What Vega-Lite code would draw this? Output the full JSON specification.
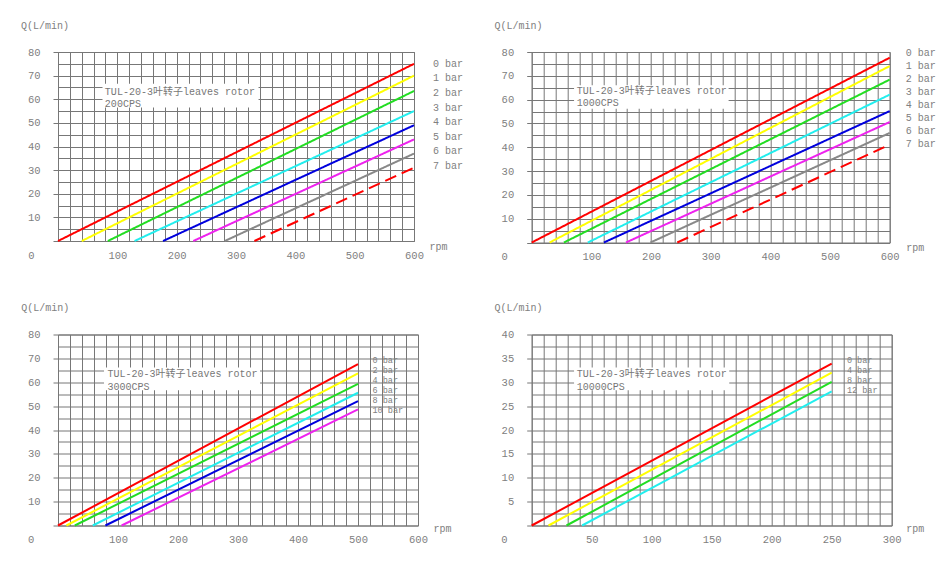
{
  "$schema": "https://vega.github.io/schema/vega-lite/v6.json",
  "background": "white",
  "padding": {"left": 20, "top": 19, "right": 0, "bottom": 0},
  "config": {
    "font": "'Liberation Mono', 'Noto Sans CJK SC'",
    "view": {"stroke": "#777777", "strokeWidth": 1},
    "axis": {
      "domain": false,
      "grid": true,
      "gridColor": "#777777",
      "gridOpacity": 1,
      "gridWidth": 1,
      "labelColor": "#808080",
      "labelFont": "Liberation Mono",
      "labelFontSize": 10.5,
      "labelOverlap": false,
      "labelFlush": false,
      "titleColor": "#808080",
      "titleFont": "Liberation Mono",
      "titleFontSize": 10,
      "titleFontWeight": "normal",
      "titleAngle": 0,
      "titleAlign": "left",
      "titleBaseline": "middle",
      "tickColor": "#777777"
    },
    "axisX": {"ticks": false, "labelPadding": 14, "labelBaseline": "middle"},
    "axisY": {"tickSize": 5, "labelPadding": 13},
    "legend": {
      "orient": "none",
      "title": null,
      "symbolSize": 0,
      "symbolOpacity": 0,
      "symbolStrokeWidth": 0,
      "labelOffset": 0,
      "padding": 0,
      "labelColor": "#808080",
      "labelFont": "Liberation Mono"
    }
  },
  "columns": 2,
  "bounds": "flush",
  "spacing": {"row": 91.5, "column": 113.7},
  "resolve": {"scale": {"color": "independent"}, "legend": {"color": "independent"}},
  "concat": [
    {
      "width": 356,
      "height": 189,
      "encoding": {
        "x": {"field": "rpm", "type": "quantitative", "scale": {"domain": [0, 600], "nice": false},
          "axis": {"values": [0,20,40,60,80,100,120,140,160,180,200,220,240,260,280,300,320,340,360,380,400,420,440,460,480,500,520,540,560,580,600],
            "labelExpr": "datum.value % 100 == 0 ? datum.label : ''",
            "labelOffset": {"condition": {"test": "datum.value == 0", "value": -27}, "value": 0},
            "title": "rpm", "titleX": 371, "titleY": 5}},
        "y": {"field": "Q", "type": "quantitative", "scale": {"domain": [0, 80], "nice": false},
          "axis": {"values": [0,5,10,15,20,25,30,35,40,45,50,55,60,65,70,75,80],
            "labelExpr": "datum.value > 0 && datum.value % 10 == 0 ? datum.label : ''",
            "tickOpacity": {"condition": {"test": "datum.value % 10 == 0", "value": 1}, "value": 0},
            "title": "Q(L/min)", "titleX": -37.5, "titleY": -26.5}}
      },
      "layer": [
        {
          "data": {"values": [{"rpm": 75, "rpm2": 338, "Q": 56.5, "Q2": 66.6}]},
          "mark": {"type": "rect", "fill": "white"},
          "encoding": {"x2": {"field": "rpm2"}, "y2": {"field": "Q2"}}
        },
        {
          "data": {"values": [{"rpm": 79, "Q": 65.35, "note": "TUL-20-3叶转子leaves rotor\n200CPS"}]},
          "mark": {"type": "text", "align": "left", "baseline": "top", "lineBreak": "\n", "lineHeight": 12.3, "fontSize": 10, "color": "#777777"},
          "encoding": {"text": {"field": "note"}}
        },
        {
          "data": {"values": [
            {"p": "0 bar", "rpm": 0, "Q": 0}, {"p": "0 bar", "rpm": 600, "Q": 75},
            {"p": "1 bar", "rpm": 40, "Q": 0}, {"p": "1 bar", "rpm": 600, "Q": 70},
            {"p": "2 bar", "rpm": 84, "Q": 0}, {"p": "2 bar", "rpm": 600, "Q": 63.5},
            {"p": "3 bar", "rpm": 129, "Q": 0}, {"p": "3 bar", "rpm": 600, "Q": 55},
            {"p": "4 bar", "rpm": 177, "Q": 0}, {"p": "4 bar", "rpm": 600, "Q": 49},
            {"p": "5 bar", "rpm": 228, "Q": 0}, {"p": "5 bar", "rpm": 600, "Q": 43},
            {"p": "6 bar", "rpm": 281, "Q": 0}, {"p": "6 bar", "rpm": 600, "Q": 37},
            {"p": "7 bar", "rpm": 331, "Q": 0}, {"p": "7 bar", "rpm": 600, "Q": 31}
          ]},
          "mark": {"type": "line", "strokeWidth": 2},
          "encoding": {
            "color": {"field": "p", "type": "nominal",
              "scale": {"domain": ["0 bar","1 bar","2 bar","3 bar","4 bar","5 bar","6 bar","7 bar"],
                "range": ["#ff0000","#ffff00","#22dd22","#22eeee","#0000dd","#ee22ee","#888888","#ff0000"]},
              "legend": {"legendX": 365, "legendY": 6.9, "rowPadding": 4.55, "labelFontSize": 10}},
            "strokeDash": {"condition": {"test": "datum.p == '7 bar'", "value": [12, 6]}, "value": [1, 0]}
          }
        }
      ]
    },
    {
      "width": 358,
      "height": 190.5,
      "encoding": {
        "x": {"field": "rpm", "type": "quantitative", "scale": {"domain": [0, 600], "nice": false},
          "axis": {"values": [0,20,40,60,80,100,120,140,160,180,200,220,240,260,280,300,320,340,360,380,400,420,440,460,480,500,520,540,560,580,600],
            "labelExpr": "datum.value % 100 == 0 ? datum.label : ''",
            "labelOffset": {"condition": {"test": "datum.value == 0", "value": -27.5}, "value": 0},
            "title": "rpm", "titleX": 374, "titleY": 5}},
        "y": {"field": "Q", "type": "quantitative", "scale": {"domain": [0, 80], "nice": false},
          "axis": {"values": [0,5,10,15,20,25,30,35,40,45,50,55,60,65,70,75,80],
            "labelExpr": "datum.value > 0 && datum.value % 10 == 0 ? datum.label : ''",
            "tickOpacity": {"condition": {"test": "datum.value % 10 == 0", "value": 1}, "value": 0},
            "title": "Q(L/min)", "titleX": -37.7, "titleY": -26.7}}
      },
      "layer": [
        {
          "data": {"values": [{"rpm": 71, "rpm2": 330, "Q": 56.2, "Q2": 66}]},
          "mark": {"type": "rect", "fill": "white"},
          "encoding": {"x2": {"field": "rpm2"}, "y2": {"field": "Q2"}}
        },
        {
          "data": {"values": [{"rpm": 75.4, "Q": 65.7, "note": "TUL-20-3叶转子leaves rotor\n1000CPS"}]},
          "mark": {"type": "text", "align": "left", "baseline": "top", "lineBreak": "\n", "lineHeight": 12.3, "fontSize": 10, "color": "#777777"},
          "encoding": {"text": {"field": "note"}}
        },
        {
          "data": {"values": [
            {"p": "0 bar", "rpm": 0, "Q": 0}, {"p": "0 bar", "rpm": 600, "Q": 77.6},
            {"p": "1 bar", "rpm": 30, "Q": 0}, {"p": "1 bar", "rpm": 600, "Q": 74.1},
            {"p": "2 bar", "rpm": 54, "Q": 0}, {"p": "2 bar", "rpm": 600, "Q": 68.4},
            {"p": "3 bar", "rpm": 94, "Q": 0}, {"p": "3 bar", "rpm": 600, "Q": 62.1},
            {"p": "4 bar", "rpm": 121, "Q": 0}, {"p": "4 bar", "rpm": 600, "Q": 55.2},
            {"p": "5 bar", "rpm": 158, "Q": 0}, {"p": "5 bar", "rpm": 600, "Q": 50.6},
            {"p": "6 bar", "rpm": 199, "Q": 0}, {"p": "6 bar", "rpm": 600, "Q": 46},
            {"p": "7 bar", "rpm": 244, "Q": 0}, {"p": "7 bar", "rpm": 600, "Q": 41.1}
          ]},
          "mark": {"type": "line", "strokeWidth": 2},
          "encoding": {
            "color": {"field": "p", "type": "nominal",
              "scale": {"domain": ["0 bar","1 bar","2 bar","3 bar","4 bar","5 bar","6 bar","7 bar"],
                "range": ["#ff0000","#ffff00","#22dd22","#22eeee","#0000dd","#ee22ee","#888888","#ff0000"]},
              "legend": {"legendX": 364, "legendY": -4.4, "rowPadding": 3.1, "labelFontSize": 10}},
            "strokeDash": {"condition": {"test": "datum.p == '7 bar'", "value": [12, 6]}, "value": [1, 0]}
          }
        }
      ]
    },
    {
      "width": 360,
      "height": 191,
      "encoding": {
        "x": {"field": "rpm", "type": "quantitative", "scale": {"domain": [0, 600], "nice": false},
          "axis": {"values": [0,20,40,60,80,100,120,140,160,180,200,220,240,260,280,300,320,340,360,380,400,420,440,460,480,500,520,540,560,580,600],
            "labelExpr": "datum.value % 100 == 0 ? datum.label : ''",
            "labelOffset": {"condition": {"test": "datum.value == 0", "value": -27.3}, "value": 0},
            "title": "rpm", "titleX": 375, "titleY": 2.5}},
        "y": {"field": "Q", "type": "quantitative", "scale": {"domain": [0, 80], "nice": false},
          "axis": {"values": [0,5,10,15,20,25,30,35,40,45,50,55,60,65,70,75,80],
            "labelExpr": "datum.value > 0 && datum.value % 10 == 0 ? datum.label : ''",
            "tickOpacity": {"condition": {"test": "datum.value % 10 == 0", "value": 1}, "value": 0},
            "title": "Q(L/min)", "titleX": -37.3, "titleY": -27}}
      },
      "layer": [
        {
          "data": {"values": [{"rpm": 76.7, "rpm2": 336.7, "Q": 56.7, "Q2": 66.2}]},
          "mark": {"type": "rect", "fill": "white"},
          "encoding": {"x2": {"field": "rpm2"}, "y2": {"field": "Q2"}}
        },
        {
          "data": {"values": [{"rpm": 82.5, "Q": 65.4, "note": "TUL-20-3叶转子leaves rotor\n3000CPS"}]},
          "mark": {"type": "text", "align": "left", "baseline": "top", "lineBreak": "\n", "lineHeight": 12.3, "fontSize": 10, "color": "#777777"},
          "encoding": {"text": {"field": "note"}}
        },
        {
          "data": {"values": [
            {"p": "0 bar", "rpm": 0, "Q": 0}, {"p": "0 bar", "rpm": 500, "Q": 67.6},
            {"p": "2 bar", "rpm": 14, "Q": 0}, {"p": "2 bar", "rpm": 500, "Q": 63.7},
            {"p": "4 bar", "rpm": 28, "Q": 0}, {"p": "4 bar", "rpm": 500, "Q": 59.3},
            {"p": "6 bar", "rpm": 58, "Q": 0}, {"p": "6 bar", "rpm": 500, "Q": 55.6},
            {"p": "8 bar", "rpm": 79, "Q": 0}, {"p": "8 bar", "rpm": 500, "Q": 52.1},
            {"p": "10 bar", "rpm": 106, "Q": 0}, {"p": "10 bar", "rpm": 500, "Q": 48.6}
          ]},
          "mark": {"type": "line", "strokeWidth": 2},
          "encoding": {
            "color": {"field": "p", "type": "nominal",
              "scale": {"domain": ["0 bar","2 bar","4 bar","6 bar","8 bar","10 bar"],
                "range": ["#ff0000","#ffff00","#22dd22","#22eeee","#0000dd","#ee22ee"]},
              "legend": {"legendX": 306, "legendY": 21.5, "rowPadding": 1, "labelFontSize": 8.5}}
          }
        }
      ]
    },
    {
      "width": 360,
      "height": 191,
      "encoding": {
        "x": {"field": "rpm", "type": "quantitative", "scale": {"domain": [0, 300], "nice": false},
          "axis": {"values": [0,10,20,30,40,50,60,70,80,90,100,110,120,130,140,150,160,170,180,190,200,210,220,230,240,250,260,270,280,290,300],
            "labelExpr": "datum.value % 50 == 0 ? datum.label : ''",
            "labelOffset": {"condition": {"test": "datum.value == 0", "value": -27.7}, "value": 0},
            "title": "rpm", "titleX": 374, "titleY": 2.5}},
        "y": {"field": "Q", "type": "quantitative", "scale": {"domain": [0, 40], "nice": false},
          "axis": {"values": [0,2.5,5,7.5,10,12.5,15,17.5,20,22.5,25,27.5,30,32.5,35,37.5,40],
            "labelExpr": "datum.value > 0 && datum.value % 5 == 0 ? datum.label : ''",
            "tickOpacity": {"condition": {"test": "datum.value % 5 == 0", "value": 1}, "value": 0},
            "title": "Q(L/min)", "titleX": -37.7, "titleY": -27}}
      },
      "layer": [
        {
          "data": {"values": [{"rpm": 35.3, "rpm2": 164.6, "Q": 28.3, "Q2": 33.1}]},
          "mark": {"type": "rect", "fill": "white"},
          "encoding": {"x2": {"field": "rpm2"}, "y2": {"field": "Q2"}}
        },
        {
          "data": {"values": [{"rpm": 37.5, "Q": 32.7, "note": "TUL-20-3叶转子leaves rotor\n10000CPS"}]},
          "mark": {"type": "text", "align": "left", "baseline": "top", "lineBreak": "\n", "lineHeight": 12.3, "fontSize": 10, "color": "#777777"},
          "encoding": {"text": {"field": "note"}}
        },
        {
          "data": {"values": [
            {"p": "0 bar", "rpm": 0, "Q": 0}, {"p": "0 bar", "rpm": 250, "Q": 33.9},
            {"p": "4 bar", "rpm": 14, "Q": 0}, {"p": "4 bar", "rpm": 250, "Q": 32},
            {"p": "8 bar", "rpm": 29, "Q": 0}, {"p": "8 bar", "rpm": 250, "Q": 30.1},
            {"p": "12 bar", "rpm": 42, "Q": 0}, {"p": "12 bar", "rpm": 250, "Q": 28.1}
          ]},
          "mark": {"type": "line", "strokeWidth": 2},
          "encoding": {
            "color": {"field": "p", "type": "nominal",
              "scale": {"domain": ["0 bar","4 bar","8 bar","12 bar"],
                "range": ["#ff0000","#ffff00","#22dd22","#22eeee"]},
              "legend": {"legendX": 306.7, "legendY": 21.5, "rowPadding": 1, "labelFontSize": 8.5}}
          }
        }
      ]
    }
  ]
}
